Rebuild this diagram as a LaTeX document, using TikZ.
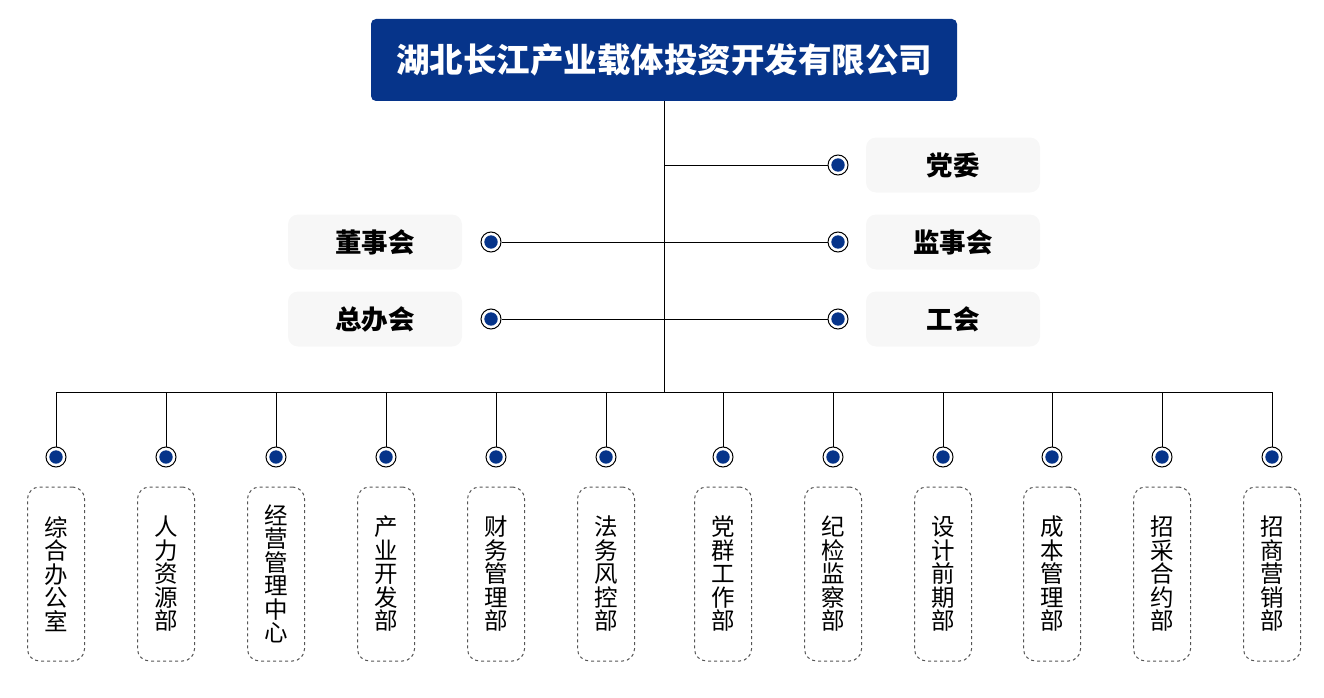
\documentclass[tikz,border=0pt]{standalone}
\usepackage{fontspec}
\setmainfont{Noto Sans CJK SC}
\usetikzlibrary{positioning}
\definecolor{navy}{HTML}{06348A}
\definecolor{paleGray}{HTML}{F7F7F7}
\definecolor{dashGray}{HTML}{555555}

\begin{document}
\begin{tikzpicture}[x=1pt,y=-1pt,line width=1pt,
    titleBox/.style={fill=navy,text=white,rounded corners=5pt,minimum width=586pt,minimum height=82pt,font=\fontsize{33.5}{33.5}\selectfont\bfseries},
    sideBox/.style={fill=paleGray,rounded corners=10pt,minimum width=174pt,minimum height=55pt,font=\fontsize{26.5}{26.5}\selectfont\bfseries},
    deptBox/.style={draw=dashGray,dashed,rounded corners=12pt,minimum width=57pt,minimum height=174pt,inner sep=0pt,align=center,font=\fontsize{23.5}{23.5}\selectfont},
    dot/.style={circle,draw=black,fill=white,minimum size=20pt,inner sep=0pt,
      path picture={\fill[navy] (path picture bounding box.center) circle (6.7pt);}}]
  \useasboundingbox (0,0) rectangle (1324,698);
  \node[titleBox] (title) at (664,60) {湖北长江产业载体投资开发有限公司};
  \node[sideBox] (party) at (953,165) {党委};
  \node[sideBox] (supervisors) at (953,242) {监事会};
  \node[sideBox] (union) at (953,319) {工会};
  \node[sideBox] (board) at (375,242) {董事会};
  \node[sideBox] (office) at (375,319) {总办会};
  \node[dot] (dotParty) at (838,165) {};
  \node[dot] (dotSupervisors) at (838,242) {};
  \node[dot] (dotUnion) at (838,319) {};
  \node[dot] (dotBoard) at (491,242) {};
  \node[dot] (dotOffice) at (491,319) {};
  \coordinate (jParty) at (664,165);
  \coordinate (busMid) at (664,392);
  \coordinate (busLeft) at (56,392);
  \coordinate (busRight) at (1272,392);
  \draw (title.south) -- (busMid);
  \draw (busLeft) -- (busRight);
  \draw (jParty) -- (dotParty);
  \draw (dotBoard) -- (dotSupervisors);
  \draw (dotOffice) -- (dotUnion);
  \foreach \i/\x/\t in {1/56/{综\\合\\办\\公\\室},2/166/{人\\力\\资\\源\\部},3/276/{经\\营\\管\\理\\中\\心},
      4/386/{产\\业\\开\\发\\部},5/496/{财\\务\\管\\理\\部},6/606/{法\\务\\风\\控\\部},
      7/723/{党\\群\\工\\作\\部},8/833/{纪\\检\\监\\察\\部},9/943/{设\\计\\前\\期\\部},
      10/1052/{成\\本\\管\\理\\部},11/1162/{招\\采\\合\\约\\部},12/1272/{招\\商\\营\\销\\部}}{
    \node[deptBox] (dept\i) at (\x,574) {\t};
    \node[dot] (dot\i) at (\x,457) {};
    \draw (dot\i |- busLeft) -- (dot\i);
  }
\end{tikzpicture}
\end{document}
